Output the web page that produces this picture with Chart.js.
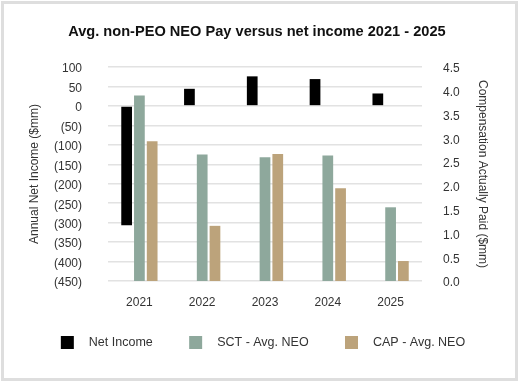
<!DOCTYPE html>
<html>
<head>
<meta charset="utf-8">
<script src="https://cdn.jsdelivr.net/npm/chart.js@4/dist/chart.umd.min.js"></script>
<style>
  html, body { margin: 0; padding: 0; background: #ffffff; }
  #wrap { position: relative; width: 519px; height: 382px; }
  #c { position: absolute; left: 0; top: 0; }
  #frame { position: absolute; left: 1px; top: 1px; width: 517px; height: 380px;
           box-sizing: border-box; border: 3px solid #dedede; pointer-events: none; }
</style>
</head>
<body>
<div id="wrap">
  <canvas id="c" width="519" height="382"></canvas>
  <div id="frame"></div>
</div>
<script>
const categories = ['2021', '2022', '2023', '2024', '2025'];
const netIncome = [-307, 44, 76, 69, 32];          // $mm, left axis
const sctAvgNeo = [3.90, 2.66, 2.60, 2.64, 1.55];  // $mm, right axis
const capAvgNeo = [2.94, 1.16, 2.67, 1.95, 0.42];  // $mm, right axis
const seriesNames = ['Net Income', 'SCT - Avg. NEO', 'CAP - Avg. NEO'];
const leftTicks = [100, 50, 0, -50, -100, -150, -200, -250, -300, -350, -400, -450];
const rightTicks = [4.5, 4.0, 3.5, 3.0, 2.5, 2.0, 1.5, 1.0, 0.5, 0.0];

const FONT = "'Liberation Sans', Arial, sans-serif";
const TXT = '#333333';

const chart = new Chart(document.getElementById('c'), {
  type: 'bar',
  data: {
    labels: categories,
    datasets: [
      { label: seriesNames[0], data: netIncome, yAxisID: 'y', backgroundColor: '#000000' },
      { label: seriesNames[1], data: sctAvgNeo, yAxisID: 'y1', backgroundColor: '#8ea89c' },
      { label: seriesNames[2], data: capAvgNeo, yAxisID: 'y1', backgroundColor: '#bca37b' }
    ]
  },
  options: {
    responsive: false,
    animation: false,
    devicePixelRatio: 1,
    categoryPercentage: 0.61,
    barPercentage: 0.84,
    layout: { padding: { top: 0, left: 7, right: 0, bottom: 23 } },
    plugins: {
      tooltip: { enabled: false },
      title: {
        display: true,
        text: 'Avg. non-PEO NEO Pay versus net income 2021 - 2025   ',
        color: '#111111',
        font: { family: FONT, size: 14.6, weight: 'bold' },
        padding: { top: 23, bottom: 26.5 }
      },
      legend: {
        display: true,
        position: 'bottom',
        labels: {
          color: TXT,
          font: { family: FONT, size: 12.5 },
          boxWidth: 13,
          boxHeight: 13,
          padding: 20,
          generateLabels: (chart) => {
            const items = Chart.defaults.plugins.legend.labels.generateLabels(chart);
            items.forEach((it, i) => {
              it.text = '\u2002\u2009' + it.text + (i < items.length - 1 ? '    \u2009' : '');
              it.lineWidth = 0;
              it.strokeStyle = 'rgba(0,0,0,0)';
            });
            return items;
          }
        }
      }
    },
    scales: {
      x: {
        grid: { display: false, drawTicks: false },
        border: { display: false },
        ticks: { color: TXT, font: { family: FONT, size: 12 }, padding: 14, maxRotation: 0 },
        afterFit: (s) => { s.height = 35; }
      },
      y: {
        position: 'left',
        min: -450, max: 100,
        afterBuildTicks: (s) => { s.ticks = leftTicks.map(v => ({ value: v })); },
        ticks: {
          color: TXT,
          font: { family: FONT, size: 12 },
          padding: 26,
          labelOffset: 2,
          callback: (v) => v < 0 ? '(' + Math.abs(v) + ')' : String(v)
        },
        grid: { color: '#e2e2e2', lineWidth: 1.5, drawTicks: false },
        border: { display: false },
        title: {
          display: true,
          text: 'Annual Net Income ($mm)',
          color: TXT,
          font: { family: FONT, size: 12 },
          padding: { top: 20, bottom: 0 }
        },
        afterFit: (s) => { s.width = 101; }
      },
      y1: {
        position: 'right',
        min: 0, max: 4.5,
        afterBuildTicks: (s) => { s.ticks = rightTicks.map(v => ({ value: v })); },
        ticks: {
          color: TXT,
          font: { family: FONT, size: 12 },
          padding: 21,
          labelOffset: 2,
          callback: (v) => Number(v).toFixed(1)
        },
        grid: { display: false, drawTicks: false },
        border: { display: false },
        title: {
          display: true,
          text: 'Compensation Actually Paid ($mm)',
          color: TXT,
          font: { family: FONT, size: 12 },
          padding: { top: 29, bottom: 0 }
        },
        afterFit: (s) => { s.width = 97; }
      }
    }
  }
});
</script>
</body>
</html>
